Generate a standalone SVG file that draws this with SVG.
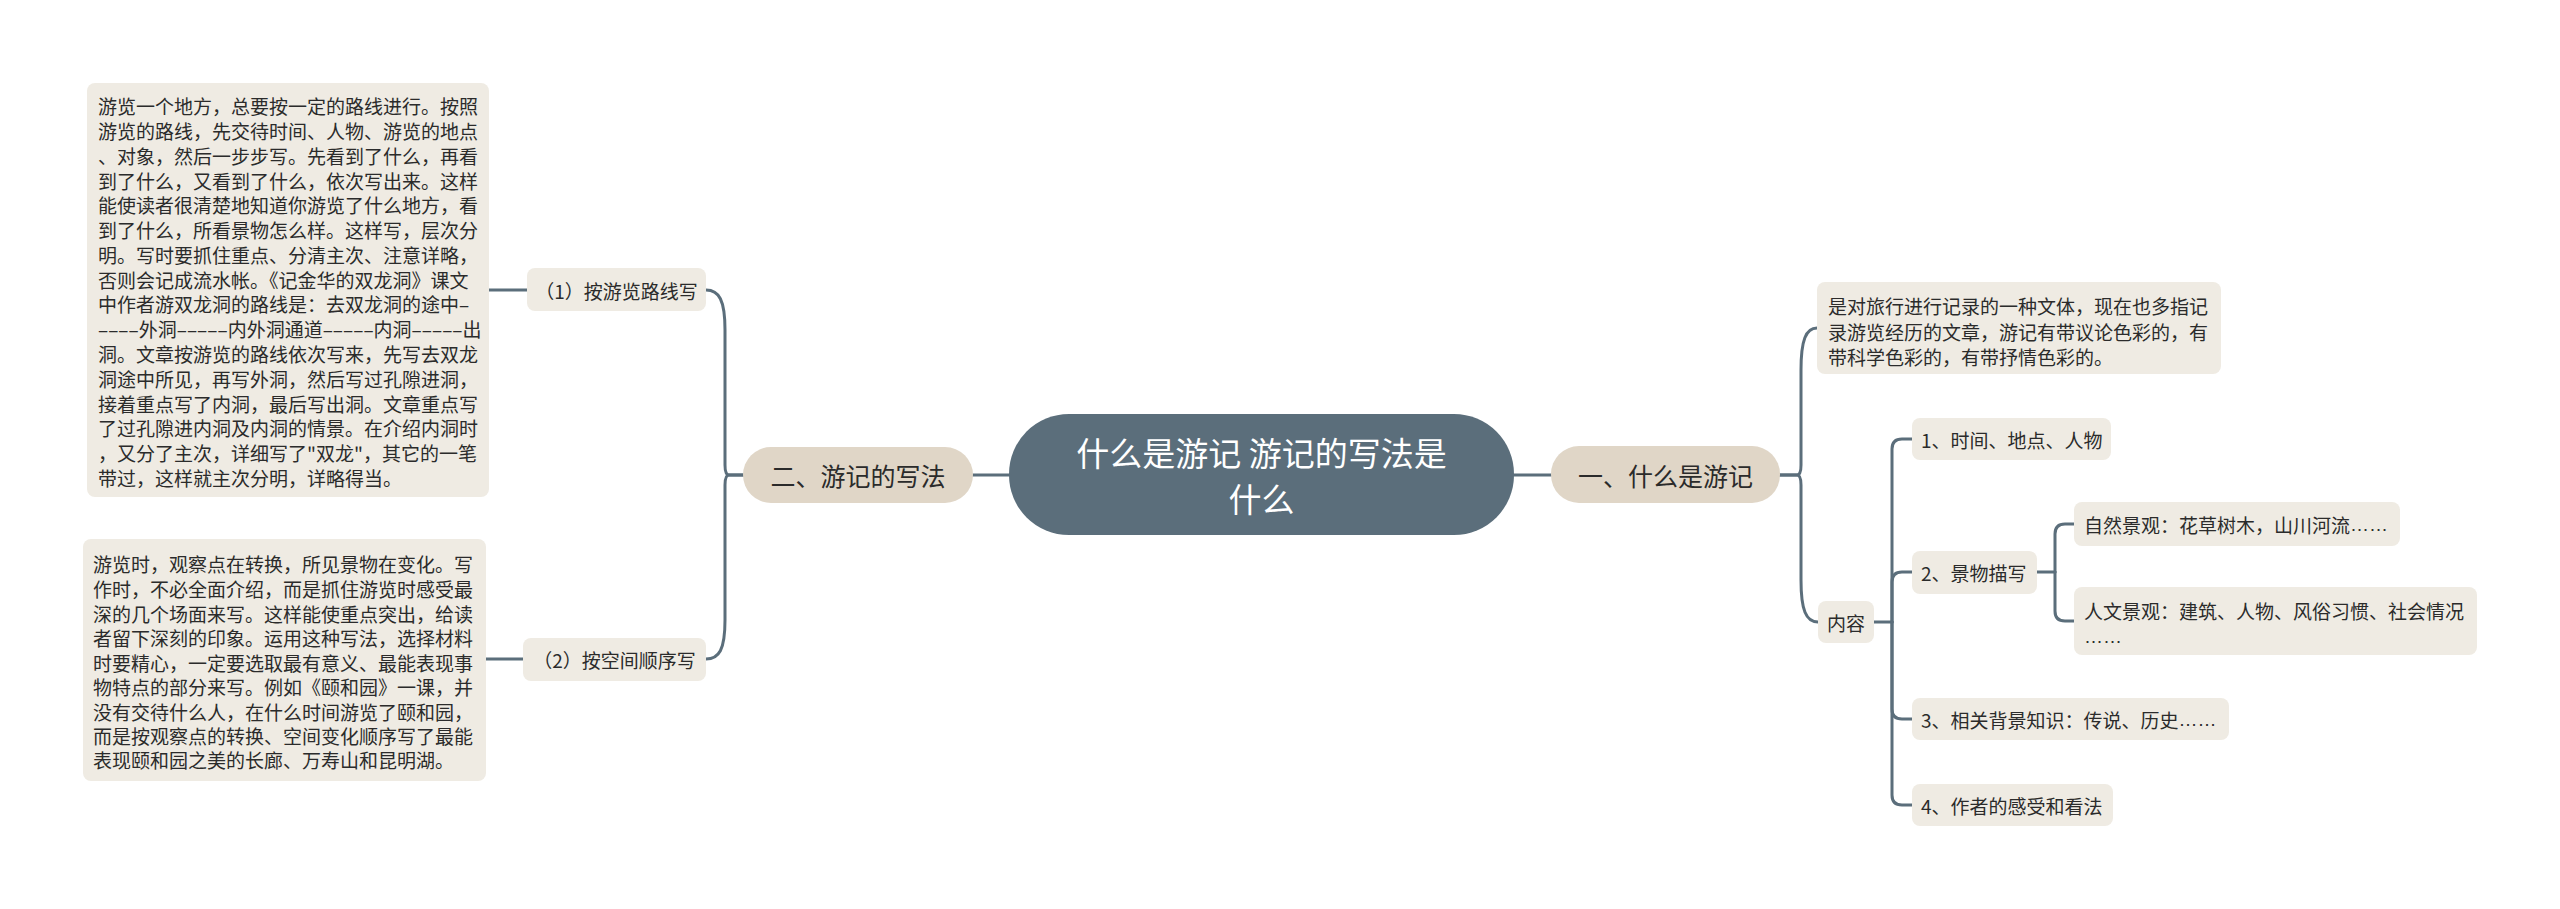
<svg xmlns="http://www.w3.org/2000/svg" width="2560" height="909" viewBox="0 0 2560 909">
<style>
text{font-family:"Noto Sans CJK SC","Noto Sans",sans-serif;fill:#2b2b2b;dominant-baseline:central}
.root rect{fill:#5b6e7b}
.root text{fill:#ffffff;font-size:33px;text-anchor:middle}
.main rect{fill:#e0d6c7}
.main text{font-size:25px;text-anchor:middle}
.sub rect{fill:#efebe3}
.sub text{font-size:19px}
.mid{text-anchor:middle}
.el{font-family:"Liberation Sans",sans-serif}
#connectors path{fill:none;stroke:#5b6e7b;stroke-width:3;stroke-linecap:round}
</style>
<rect width="2560" height="909" fill="#ffffff"/>
<g id="connectors">
<path d="M1009,475 H973"/>
<path d="M743,475 L729,475 Q725,475 725,465 L725,330 C725,300 719,290 706,290"/>
<path d="M743,475 L729,475 Q725,475 725,485 L725,620 C725,650 719,659 706,659"/>
<path d="M527,290 H489"/>
<path d="M523,659 H486"/>
<path d="M1514,475 H1551"/>
<path d="M1780,475 L1797,475 Q1801,475 1801,465 L1801,370 C1801,340 1806,328 1817,328"/>
<path d="M1780,475 L1797,475 Q1801,475 1801,485 L1801,580 C1801,610 1806,622 1818,622"/>
<path d="M1874,622 H1892"/>
<path d="M1892,622 V449 Q1892,439 1902,439 H1912"/>
<path d="M1892,622 V582 Q1892,572 1902,572 H1912"/>
<path d="M1892,622 V709 Q1892,719 1902,719 H1912"/>
<path d="M1892,622 V795 Q1892,805 1902,805 H1912"/>
<path d="M2037,572 H2055"/>
<path d="M2055,572 V534 Q2055,524 2065,524 H2074"/>
<path d="M2055,572 V611 Q2055,621 2065,621 H2074"/>
</g>
<g id="root" class="root">
<rect x="1009" y="414" width="505" height="121" rx="60"/>
<text x="1261.5" y="452">什么是游记 游记的写法是</text>
<text x="1261.5" y="498">什么</text>
</g>
<g id="branch-2" class="main">
<rect x="743" y="447" width="230" height="56" rx="28"/>
<text x="858" y="475">二、游记的写法</text>
</g>
<g id="branch-1" class="main">
<rect x="1551" y="446" width="229" height="57" rx="28"/>
<text x="1665.5" y="475">一、什么是游记</text>
</g>
<g id="node-route" class="sub">
<rect x="527" y="268" width="179" height="43" rx="8"/>
<text class="mid" x="616.5" y="290">（1）按游览路线写</text>
</g>
<g id="node-space" class="sub">
<rect x="523" y="638" width="183" height="43" rx="8"/>
<text class="mid" x="614.5" y="659">（2）按空间顺序写</text>
</g>
<g id="note-route" class="sub">
<rect x="87" y="83" width="402" height="414" rx="8"/>
<text x="98" y="105">游览一个地方，总要按一定的路线进行。按照</text>
<text x="98" y="130">游览的路线，先交待时间、人物、游览的地点</text>
<text x="98" y="155">、对象，然后一步步写。先看到了什么，再看</text>
<text x="98" y="180">到了什么，又看到了什么，依次写出来。这样</text>
<text x="98" y="204">能使读者很清楚地知道你游览了什么地方，看</text>
<text x="98" y="229">到了什么，所看景物怎么样。这样写，层次分</text>
<text x="98" y="254">明。写时要抓住重点、分清主次、注意详略，</text>
<text x="98" y="279">否则会记成流水帐。《记金华的双龙洞》课文</text>
<text x="98" y="303">中作者游双龙洞的路线是：去双龙洞的途中–</text>
<text x="98" y="328">––––外洞–––––内外洞通道–––––内洞–––––出</text>
<text x="98" y="353">洞。文章按游览的路线依次写来，先写去双龙</text>
<text x="98" y="378">洞途中所见，再写外洞，然后写过孔隙进洞，</text>
<text x="98" y="403">接着重点写了内洞，最后写出洞。文章重点写</text>
<text x="98" y="427">了过孔隙进内洞及内洞的情景。在介绍内洞时</text>
<text x="98" y="452">，又分了主次，详细写了&quot;双龙&quot;，其它的一笔</text>
<text x="98" y="477">带过，这样就主次分明，详略得当。</text>
</g>
<g id="note-space" class="sub">
<rect x="83" y="539" width="403" height="242" rx="8"/>
<text x="93" y="563">游览时，观察点在转换，所见景物在变化。写</text>
<text x="93" y="588">作时，不必全面介绍，而是抓住游览时感受最</text>
<text x="93" y="613">深的几个场面来写。这样能使重点突出，给读</text>
<text x="93" y="637">者留下深刻的印象。运用这种写法，选择材料</text>
<text x="93" y="662">时要精心，一定要选取最有意义、最能表现事</text>
<text x="93" y="686">物特点的部分来写。例如《颐和园》一课，并</text>
<text x="93" y="711">没有交待什么人，在什么时间游览了颐和园，</text>
<text x="93" y="735">而是按观察点的转换、空间变化顺序写了最能</text>
<text x="93" y="759">表现颐和园之美的长廊、万寿山和昆明湖。</text>
</g>
<g id="note-def" class="sub">
<rect x="1817" y="282" width="404" height="92" rx="8"/>
<text x="1828" y="305">是对旅行进行记录的一种文体，现在也多指记</text>
<text x="1828" y="331">录游览经历的文章，游记有带议论色彩的，有</text>
<text x="1828" y="356">带科学色彩的，有带抒情色彩的。</text>
</g>
<g id="node-content" class="sub">
<rect x="1818" y="601" width="56" height="42" rx="8"/>
<text class="mid" x="1846" y="622">内容</text>
</g>
<g id="node-c1" class="sub">
<rect x="1912" y="418" width="199" height="42" rx="8"/>
<text x="1921" y="439">1、时间、地点、人物</text>
</g>
<g id="node-c2" class="sub">
<rect x="1912" y="551" width="125" height="43" rx="8"/>
<text x="1921" y="572">2、景物描写</text>
</g>
<g id="node-nature" class="sub">
<rect x="2074" y="502" width="326" height="44" rx="8"/>
<text x="2084" y="524">自然景观：花草树木，山川河流<tspan class="el">……</tspan></text>
</g>
<g id="node-human" class="sub">
<rect x="2074" y="587" width="403" height="68" rx="8"/>
<text x="2084" y="610">人文景观：建筑、人物、风俗习惯、社会情况</text>
<text x="2084" y="636"><tspan class="el">……</tspan></text>
</g>
<g id="node-c3" class="sub">
<rect x="1912" y="698" width="317" height="42" rx="8"/>
<text x="1921" y="719">3、相关背景知识：传说、历史<tspan class="el">……</tspan></text>
</g>
<g id="node-c4" class="sub">
<rect x="1912" y="784" width="201" height="42" rx="8"/>
<text x="1921" y="805">4、作者的感受和看法</text>
</g>
</svg>
